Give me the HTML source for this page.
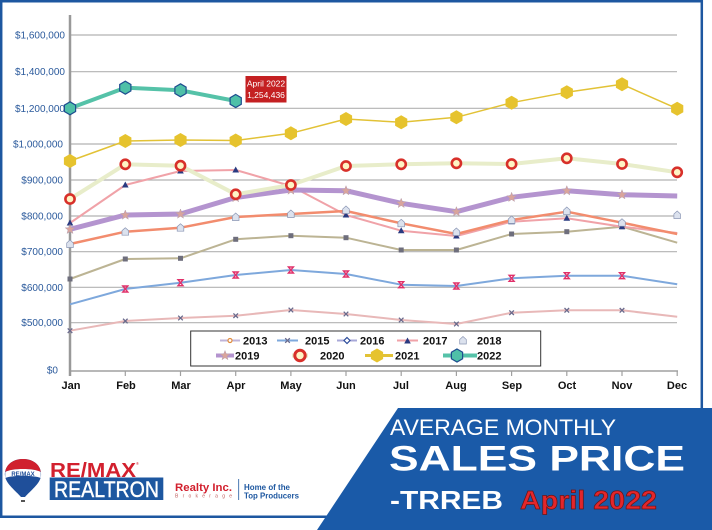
<!DOCTYPE html>
<html><head><meta charset="utf-8"><style>
html,body{margin:0;padding:0;background:#fff;}
svg{display:block;}
text{font-family:"Liberation Sans",Arial,sans-serif;}
</style></head><body>
<svg width="712" height="530" viewBox="0 0 712 530" xmlns="http://www.w3.org/2000/svg">
<defs>
<polygon id="hx" points="0,-6.5 5.6,-3.25 5.6,3.25 0,6.5 -5.6,3.25 -5.6,-3.25" fill="#4fc0a8" stroke="#1e4d8f" stroke-width="1.2"/>
<polygon id="hy" points="0,-7 6.1,-3.5 6.1,3.5 0,7 -6.1,3.5 -6.1,-3.5" fill="#e6c32e"/>
<circle id="rg" r="4.6" fill="#fff4c4" stroke="#d8302a" stroke-width="2.6"/>
<polygon id="st" points="0,-5 1.3,-1.6 4.8,-1.5 2,0.7 3,4.2 0,2.2 -3,4.2 -2,0.7 -4.8,-1.5 -1.3,-1.6" fill="#d9a49c" stroke="#b8a0b0" stroke-width="0.5"/>
<polygon id="hs" points="0,-4 3.3,-1 3.3,3.5 -3.3,3.5 -3.3,-1" fill="#dce2ee" stroke="#8a96b4" stroke-width="0.7"/>
<polygon id="tr" points="0,-3.5 3.3,2.5 -3.3,2.5" fill="#2a3a80"/>
<rect id="sq" x="-2.5" y="-2.5" width="5" height="5" fill="#6e6e7c"/>
<path id="xr" d="M-2.5,-3 L2.5,-3 L-2.5,3 L2.5,3 Z" fill="none" stroke="#e0306a" stroke-width="1.4"/>
<path id="xg" d="M-2.3,-2.3 L2.3,2.3 M2.3,-2.3 L-2.3,2.3" stroke="#6a6a8c" stroke-width="1.3"/>
</defs>

<!-- frame -->
<line x1="1.2" y1="0" x2="1.2" y2="518" stroke="#1d57a0" stroke-width="2.5"/>
<line x1="0" y1="1.2" x2="703" y2="1.2" stroke="#1d57a0" stroke-width="2.5"/>
<line x1="701.8" y1="0" x2="701.8" y2="409" stroke="#1d57a0" stroke-width="2.5"/>
<line x1="0" y1="516.8" x2="330" y2="516.8" stroke="#1d57a0" stroke-width="2.5"/>

<!-- gridlines -->
<g stroke="#b2b2b2" stroke-width="1.2">
<line x1="70" y1="35" x2="677" y2="35"/>
<line x1="70" y1="71.7" x2="677" y2="71.7"/>
<line x1="70" y1="108.3" x2="677" y2="108.3"/>
<line x1="70" y1="144" x2="677" y2="144"/>
<line x1="70" y1="180" x2="677" y2="180"/>
<line x1="70" y1="216" x2="677" y2="216"/>
<line x1="70" y1="251.7" x2="677" y2="251.7"/>
<line x1="70" y1="287.3" x2="677" y2="287.3"/>
<line x1="70" y1="322.7" x2="677" y2="322.7"/>
</g>
<line x1="70" y1="371" x2="678" y2="371" stroke="#a0a0a0" stroke-width="1.5"/>
<g stroke="#a0a0a0" stroke-width="1.2">
<line x1="125.3" y1="371" x2="125.3" y2="376"/><line x1="180.5" y1="371" x2="180.5" y2="376"/>
<line x1="235.7" y1="371" x2="235.7" y2="376"/><line x1="290.9" y1="371" x2="290.9" y2="376"/>
<line x1="346" y1="371" x2="346" y2="376"/><line x1="401.2" y1="371" x2="401.2" y2="376"/>
<line x1="456.4" y1="371" x2="456.4" y2="376"/><line x1="511.6" y1="371" x2="511.6" y2="376"/>
<line x1="566.8" y1="371" x2="566.8" y2="376"/><line x1="622" y1="371" x2="622" y2="376"/>
<line x1="677.2" y1="371" x2="677.2" y2="376"/>
</g>
<line x1="70" y1="15" x2="70" y2="376" stroke="#999" stroke-width="2.5"/>

<!-- y labels -->
<g font-size="10" fill="#2b5a9c" text-anchor="end">
<text x="65" y="38.5">$1,600,000</text>
<text x="65" y="75.2">$1,400,000</text>
<text x="65" y="111.8">$1,200,000</text>
<text x="63" y="147.5">$1,000,000</text>
<text x="63" y="183.5">$900,000</text>
<text x="63" y="219.5">$800,000</text>
<text x="63" y="255.2">$700,000</text>
<text x="63" y="290.8">$600,000</text>
<text x="63" y="326.2">$500,000</text>
<text x="58" y="373.5">$0</text>
</g>

<!-- x labels -->
<g font-size="11" font-weight="bold" fill="#111" text-anchor="middle">
<text x="71" y="389">Jan</text><text x="126" y="389">Feb</text><text x="181" y="389">Mar</text>
<text x="236" y="389">Apr</text><text x="291" y="389">May</text><text x="346" y="389">Jun</text>
<text x="401" y="389">Jul</text><text x="456" y="389">Aug</text><text x="512" y="389">Sep</text>
<text x="567" y="389">Oct</text><text x="622" y="389">Nov</text><text x="677" y="389">Dec</text>
</g>

<!-- series lines -->
<g fill="none" stroke-linejoin="round">
<polyline stroke="#e8b8b8" stroke-width="2" points="70,330.7 125.3,321 180.5,318 235.7,315.7 290.9,310 346,314 401.2,320 456.4,324 511.6,312.7 566.8,310.3 622,310.3 677.2,316.7"/>
<polyline stroke="#7ea8dc" stroke-width="2" points="70,304.3 125.3,289 180.5,282.7 235.7,275 290.9,270 346,274 401.2,284.7 456.4,286 511.6,278.3 566.8,275.7 622,275.7 677.2,284.3"/>
<polyline stroke="#bcb494" stroke-width="2" points="70,279 125.3,259 180.5,258.3 235.7,239.3 290.9,235.7 346,237.7 401.2,250 456.4,250 511.6,234 566.8,231.7 622,226.7 677.2,242.7"/>
<polyline stroke="#f0a2a8" stroke-width="2" points="70,223 125.3,185 180.5,171 235.7,170 290.9,186 346,215 401.2,230.7 456.4,236 511.6,221.7 566.8,218.3 622,226.7 677.2,233"/>
<polyline stroke="#f28c6e" stroke-width="2.5" points="70,244 125.3,231.7 180.5,227.7 235.7,217 290.9,214 346,211 401.2,223.3 456.4,234 511.6,220 566.8,211.7 622,222.7 677.2,234"/>
<polyline stroke="#b494cf" stroke-width="5" points="70,229.3 125.3,215 180.5,214 235.7,197.5 290.9,190 346,190.7 401.2,203.3 456.4,211.7 511.6,197.3 566.8,190.7 622,194.7 677.2,196"/>
<polyline stroke="#e8edca" stroke-width="4" points="70,199 125.3,164.3 180.5,165.7 235.7,194.3 290.9,185 346,166 401.2,164.3 456.4,163.3 511.6,164 566.8,158.3 622,164 677.2,172.3"/>
<polyline stroke="#e2c236" stroke-width="1.5" points="70,161 125.3,141 180.5,140 235.7,140.5 290.9,133.3 346,119 401.2,122.3 456.4,117.3 511.6,102.7 566.8,92.3 622,84.3 677.2,108.7"/>
<polyline stroke="#55c2a8" stroke-width="4" points="70,108.3 125.3,87.7 180.5,90.3 235.7,101"/>
</g>

<!-- markers -->
<g>
<use href="#xg" x="70" y="330.7"/><use href="#xg" x="125.3" y="321"/><use href="#xg" x="180.5" y="318"/><use href="#xg" x="235.7" y="315.7"/><use href="#xg" x="290.9" y="310"/><use href="#xg" x="346" y="314"/><use href="#xg" x="401.2" y="320"/><use href="#xg" x="456.4" y="324"/><use href="#xg" x="511.6" y="312.7"/><use href="#xg" x="566.8" y="310.3"/><use href="#xg" x="622" y="310.3"/>
<use href="#xr" x="125.3" y="289"/><use href="#xr" x="180.5" y="282.7"/><use href="#xr" x="235.7" y="275"/><use href="#xr" x="290.9" y="270"/><use href="#xr" x="346" y="274"/><use href="#xr" x="401.2" y="284.7"/><use href="#xr" x="456.4" y="286"/><use href="#xr" x="511.6" y="278.3"/><use href="#xr" x="566.8" y="275.7"/><use href="#xr" x="622" y="275.7"/>
<use href="#sq" x="70" y="279"/><use href="#sq" x="125.3" y="259"/><use href="#sq" x="180.5" y="258.3"/><use href="#sq" x="235.7" y="239.3"/><use href="#sq" x="290.9" y="235.7"/><use href="#sq" x="346" y="237.7"/><use href="#sq" x="401.2" y="250"/><use href="#sq" x="456.4" y="250"/><use href="#sq" x="511.6" y="234"/><use href="#sq" x="566.8" y="231.7"/><use href="#sq" x="622" y="226.7"/>
<use href="#tr" x="70" y="223"/><use href="#tr" x="125.3" y="185"/><use href="#tr" x="180.5" y="171"/><use href="#tr" x="235.7" y="170"/><use href="#tr" x="346" y="215"/><use href="#tr" x="401.2" y="230.7"/><use href="#tr" x="456.4" y="236"/><use href="#tr" x="511.6" y="221.7"/><use href="#tr" x="566.8" y="218.3"/><use href="#tr" x="622" y="226.7"/>
<use href="#hs" x="70" y="244"/><use href="#hs" x="125.3" y="231.7"/><use href="#hs" x="180.5" y="227.7"/><use href="#hs" x="235.7" y="217"/><use href="#hs" x="290.9" y="214"/><use href="#hs" x="346" y="210"/><use href="#hs" x="401.2" y="223.3"/><use href="#hs" x="456.4" y="232"/><use href="#hs" x="511.6" y="220"/><use href="#hs" x="566.8" y="211"/><use href="#hs" x="622" y="222.7"/><use href="#hs" x="677.2" y="215"/>
<use href="#st" x="70" y="229.3"/><use href="#st" x="125.3" y="215"/><use href="#st" x="180.5" y="214"/><use href="#st" x="235.7" y="197.5"/><use href="#st" x="290.9" y="190"/><use href="#st" x="346" y="190.7"/><use href="#st" x="401.2" y="203.3"/><use href="#st" x="456.4" y="211.7"/><use href="#st" x="511.6" y="197.3"/><use href="#st" x="566.8" y="190.7"/><use href="#st" x="622" y="194.7"/>
<use href="#rg" x="70" y="199"/><use href="#rg" x="125.3" y="164.3"/><use href="#rg" x="180.5" y="165.7"/><use href="#rg" x="235.7" y="194.3"/><use href="#rg" x="290.9" y="185"/><use href="#rg" x="346" y="166"/><use href="#rg" x="401.2" y="164.3"/><use href="#rg" x="456.4" y="163.3"/><use href="#rg" x="511.6" y="164"/><use href="#rg" x="566.8" y="158.3"/><use href="#rg" x="622" y="164"/><use href="#rg" x="677.2" y="172.3"/>
<use href="#hy" x="70" y="161"/><use href="#hy" x="125.3" y="141"/><use href="#hy" x="180.5" y="140"/><use href="#hy" x="235.7" y="140.5"/><use href="#hy" x="290.9" y="133.3"/><use href="#hy" x="346" y="119"/><use href="#hy" x="401.2" y="122.3"/><use href="#hy" x="456.4" y="117.3"/><use href="#hy" x="511.6" y="102.7"/><use href="#hy" x="566.8" y="92.3"/><use href="#hy" x="622" y="84.3"/><use href="#hy" x="677.2" y="108.7"/>
<use href="#hx" x="70" y="108.3"/><use href="#hx" x="125.3" y="87.7"/><use href="#hx" x="180.5" y="90.3"/><use href="#hx" x="235.7" y="101"/>
</g>

<!-- tooltip -->
<rect x="245.5" y="76" width="41" height="26.5" fill="#c42022"/>
<text x="266" y="86.5" font-size="8.5" fill="#fff" text-anchor="middle">April 2022</text>
<text x="266" y="98" font-size="8.5" fill="#fff" text-anchor="middle">1,254,436</text>

<!-- legend -->
<rect x="190.7" y="331" width="350" height="35" fill="#fff" stroke="#333" stroke-width="1"/>
<g font-size="11" font-weight="bold" fill="#111">
<line x1="220" y1="340.5" x2="240" y2="340.5" stroke="#c0b4d8" stroke-width="2"/>
<circle cx="230" cy="340.5" r="2" fill="#fff" stroke="#e08a3a" stroke-width="1.2"/>
<text x="243" y="344.5">2013</text>
<line x1="277" y1="340.5" x2="298" y2="340.5" stroke="#7ea8dc" stroke-width="2"/>
<use href="#xg" x="287.5" y="340.5"/>
<text x="305" y="344.5">2015</text>
<line x1="337" y1="340.5" x2="357" y2="340.5" stroke="#a8a8d8" stroke-width="2"/>
<polygon points="347,337.5 350,340.5 347,343.5 344,340.5" fill="#fff" stroke="#2a4a9a" stroke-width="1.2"/>
<text x="360" y="344.5">2016</text>
<line x1="397" y1="340.5" x2="418" y2="340.5" stroke="#f0a2a8" stroke-width="2"/>
<use href="#tr" x="407.5" y="341"/>
<text x="423" y="344.5">2017</text>
<use href="#hs" x="463" y="340.5"/>
<text x="477" y="344.5">2018</text>

<line x1="216" y1="355.5" x2="234" y2="355.5" stroke="#b494cf" stroke-width="4"/>
<use href="#st" x="225" y="355.5"/>
<text x="235" y="359.5">2019</text>
<line x1="292" y1="355.5" x2="308" y2="355.5" stroke="#e8edca" stroke-width="4"/>
<circle cx="300" cy="355.5" r="5.2" fill="#fff4c4" stroke="#d8302a" stroke-width="3"/>
<text x="320" y="359.5">2020</text>
<line x1="365" y1="355.5" x2="393" y2="355.5" stroke="#e2c236" stroke-width="3"/>
<use href="#hy" x="377" y="355.5"/>
<text x="395" y="359.5">2021</text>
<line x1="443" y1="355.5" x2="477" y2="355.5" stroke="#55c2a8" stroke-width="4"/>
<use href="#hx" x="457" y="355.5"/>
<text x="477" y="359.5">2022</text>
</g>

<!-- banner -->
<polygon points="398,408 712,408 712,530 317,530" fill="#1a5aa8"/>
<text x="390" y="435" font-size="22" fill="#fff" textLength="226" lengthAdjust="spacingAndGlyphs">AVERAGE MONTHLY</text>
<text x="389" y="470.5" font-size="35" font-weight="bold" fill="#fff" textLength="296" lengthAdjust="spacingAndGlyphs">SALES PRICE</text>
<text x="390" y="509" font-size="26" font-weight="bold" fill="#fff" textLength="113" lengthAdjust="spacingAndGlyphs">-TRREB</text>
<text x="520" y="509" font-size="26" font-weight="bold" fill="#e3262b" stroke="#6a1414" stroke-width="0.7" textLength="137" lengthAdjust="spacingAndGlyphs">April 2022</text>

<!-- logo -->
<path d="M23,459 C10,459 4,468 5,476 C6,484 16,491 21,497 L25,497 C30,491 40,484 41,476 C42,468 36,459 23,459 Z" fill="#1f4f9a"/>
<path d="M5.3,472 C6,464 14,459 23,459 C32,459 40,464 40.7,472 C34,468 12,468 5.3,472 Z" fill="#d0202e"/>
<path d="M5.3,472 C12,468 34,468 40.7,472 L40.8,478 C34,475 12,475 5.2,478 Z" fill="#fff"/>
<text x="23" y="476" font-size="6" font-weight="bold" fill="#1f4f9a" text-anchor="middle">RE/MAX</text>
<rect x="21" y="500" width="4" height="2" fill="#555"/>
<text x="50" y="477" font-size="20" font-weight="bold" fill="#d2202e" textLength="86" lengthAdjust="spacingAndGlyphs">RE/MAX</text>
<text x="136" y="465" font-size="4" fill="#d2202e">®</text>
<rect x="49.7" y="477.5" width="113.6" height="22.5" fill="#1d57a0"/>
<text x="54" y="497" font-size="22" fill="#fff" stroke="#fff" stroke-width="0.4" textLength="105" lengthAdjust="spacingAndGlyphs">REALTRON</text>
<text x="175" y="491" font-size="11" font-weight="bold" fill="#d2202e" textLength="57" lengthAdjust="spacingAndGlyphs">Realty Inc.</text>
<text x="175" y="497.5" font-size="5" fill="#c06060" textLength="57" lengthAdjust="spacing">Brokerage</text>
<line x1="238.7" y1="479" x2="238.7" y2="500" stroke="#1d57a0" stroke-width="0.8"/>
<text x="244" y="490" font-size="8.5" font-weight="bold" fill="#1d57a0" textLength="46" lengthAdjust="spacingAndGlyphs">Home of the</text>
<text x="244" y="498.5" font-size="8.5" font-weight="bold" fill="#1d57a0" textLength="55" lengthAdjust="spacingAndGlyphs">Top Producers</text>
</svg>
</body></html>
